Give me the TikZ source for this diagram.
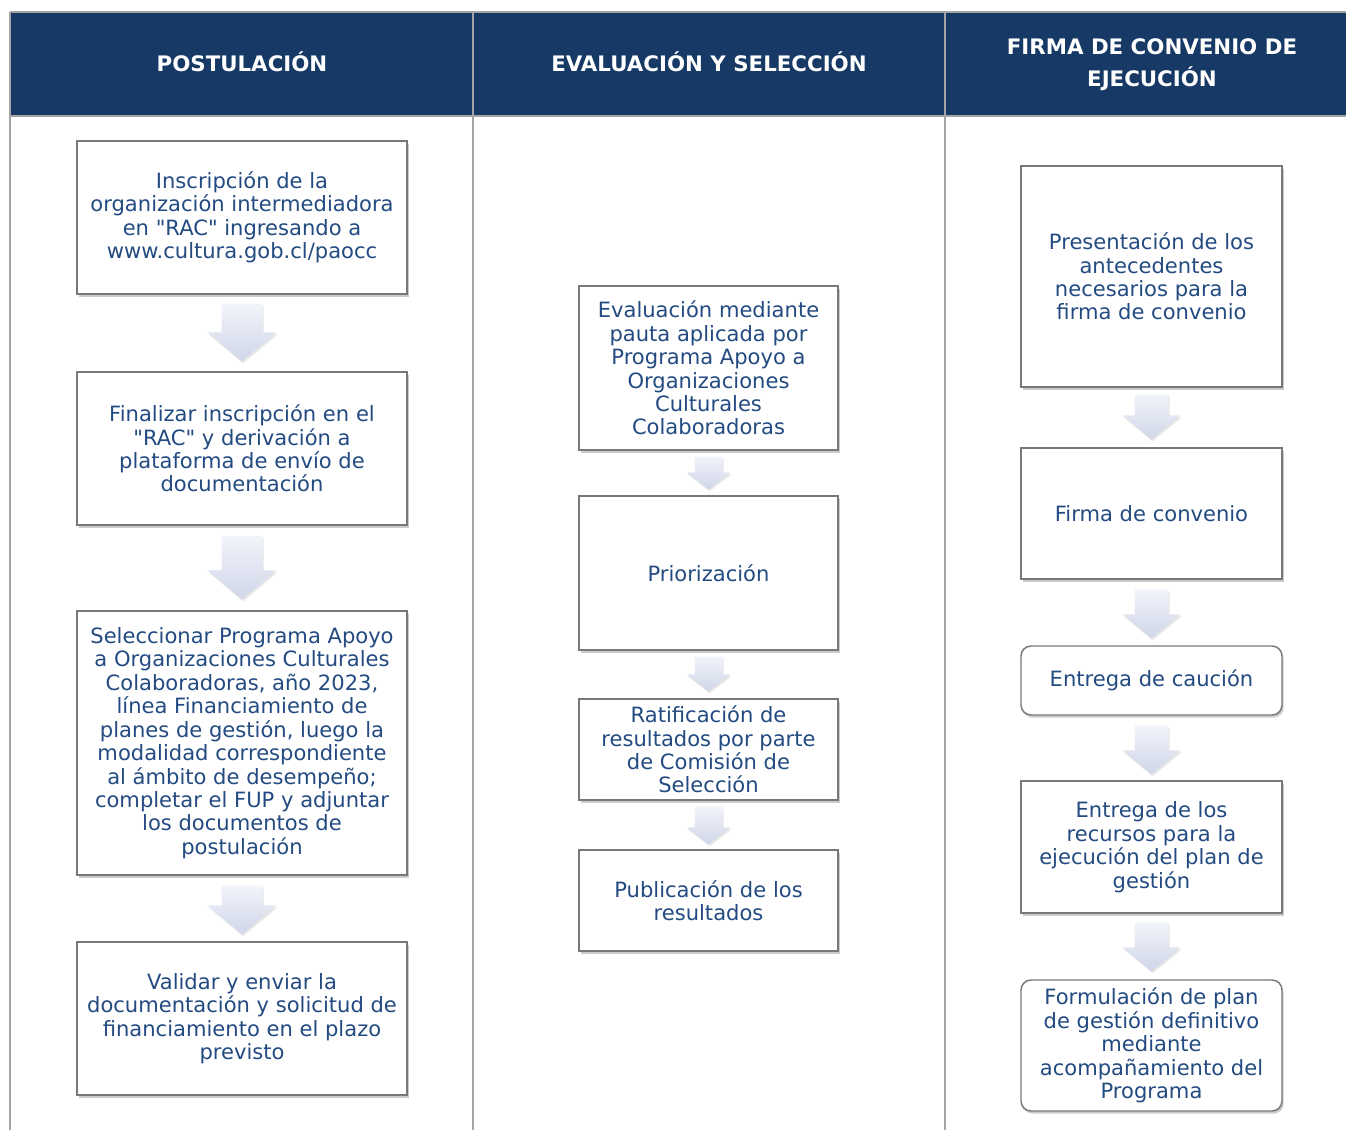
\documentclass[tikz,border=0pt]{standalone}
\usepackage{fontspec}
\setmainfont{DejaVu Sans}
\usetikzlibrary{calc,shadows}
\definecolor{hdr}{RGB}{23,57,101}
\definecolor{txt}{RGB}{35,75,130}
\definecolor{gridc}{RGB}{165,165,165}
\definecolor{bord}{RGB}{120,120,120}
\definecolor{arrtop}{RGB}{242,244,250}
\definecolor{arrbot}{RGB}{208,214,233}
\newcommand\dq{\XeTeXglyph\numexpr\XeTeXcharglyph"0022\relax}
\tikzset{
 stepbox/.style={draw=bord, line width=1.1pt, fill=white, align=center, text=txt,
   font=\fontsize{15.8pt}{17.6pt}\selectfont, inner sep=0pt,
   drop shadow={opacity=0.4, shadow xshift=1.2pt, shadow yshift=-2pt}},
 sz/.style 2 args={minimum width={#1*0.75pt}, minimum height={#2*0.75pt}},
 roundbox/.style={stepbox, rounded corners=7.5pt},
 hdrtext/.style={text=white, font=\bfseries\fontsize{16pt}{24pt}\selectfont, align=center},
 gridline/.style={draw=gridc, line width=0.9pt},
 arrowfill/.style={top color=arrtop, bottom color=arrbot, draw=none,
   drop shadow={opacity=0.2, shadow xshift=0.8pt, shadow yshift=-1.5pt}}
}
% #1 from, #2 to, #3 top gap, #4 bottom gap, #5 shaft half width, #6 head half width, #7 head length
\newcommand\blockarr[7]{%
 \path[arrowfill] let \p1=(#1.south), \p2=(#2.north) in
  ({\x1-#5*0.75pt},{\y1-#3*0.75pt}) --
  ({\x1-#5*0.75pt},{\y2+#4*0.75pt+#7*0.75pt}) --
  ({\x1-#6*0.75pt},{\y2+#4*0.75pt+#7*0.75pt}) --
  ({\x1},{\y2+#4*0.75pt}) --
  ({\x1+#6*0.75pt},{\y2+#4*0.75pt+#7*0.75pt}) --
  ({\x1+#5*0.75pt},{\y2+#4*0.75pt+#7*0.75pt}) --
  ({\x1+#5*0.75pt},{\y1-#3*0.75pt}) -- cycle;}
\begin{document}
\begin{tikzpicture}[x=0.75pt,y=-0.75pt]
\useasboundingbox (0,0) rectangle (1346,1130);
% header
\fill[hdr] (10,12) rectangle (1346,116);
\draw[gridline] (10,12) -- (1346,12);
\draw[gridline] (10,116) -- (1346,116);
\draw[gridline] (10,12) -- (10,1130);
\draw[gridline] (473,12) -- (473,1130);
\draw[gridline] (945,12) -- (945,1130);
\node[hdrtext] (h1) at (242,62) {POSTULACIÓN};
\node[hdrtext] (h2) at (709,62) {EVALUACIÓN Y SELECCIÓN};
\node[hdrtext] (h3) at (1152,65) {FIRMA DE CONVENIO DE\\EJECUCIÓN};
% column 1
\node[stepbox, sz={330}{153}] (a1) at (242,217.5) {Inscripción de la\\organización intermediadora\\en \dq RAC\dq{} ingresando a\\www.cultura.gob.cl/paocc};
\node[stepbox, sz={330}{153}] (a2) at (242,448.5) {Finalizar inscripción en el\\\dq RAC\dq{} y derivación a\\plataforma de envío de\\documentación};
\node[stepbox, sz={330}{264}] (a3) at (242,743) {Seleccionar Programa Apoyo\\a Organizaciones Culturales\\Colaboradoras, año 2023,\\línea Financiamiento de\\planes de gestión, luego la\\modalidad correspondiente\\al ámbito de desempeño;\\completar el FUP y adjuntar\\los documentos de\\postulación};
\node[stepbox, sz={330}{153}] (a4) at (242,1018.5) {Validar y enviar la\\documentación y solicitud de\\financiamiento en el plazo\\previsto};
% column 2
\node[stepbox, sz={259}{164}] (b1) at (708.5,368) {Evaluación mediante\\pauta aplicada por\\Programa Apoyo a\\Organizaciones\\Culturales\\Colaboradoras};
\node[stepbox, sz={259}{154}] (b2) at (708.5,573) {Priorización};
\node[stepbox, sz={259}{101}] (b3) at (708.5,749.5) {Ratificación de\\resultados por parte\\de Comisión de\\Selección};
\node[stepbox, sz={259}{101}] (b4) at (708.5,900.5) {Publicación de los\\resultados};
% column 3
\node[stepbox, sz={261}{221}] (c1) at (1151.5,276.5) {Presentación de los\\antecedentes\\necesarios para la\\firma de convenio};
\node[stepbox, sz={261}{131}] (c2) at (1151.5,513.5) {Firma de convenio};
\node[roundbox, sz={261}{69}] (c3) at (1151.5,680.5) {Entrega de caución};
\node[stepbox, sz={261}{132}] (c4) at (1151.5,847) {Entrega de los\\recursos para la\\ejecución del plan de\\gestión};
\node[roundbox, sz={261}{131}] (c5) at (1151.5,1045.5) {Formulación de plan\\de gestión definitivo\\mediante\\acompañamiento del\\Programa};
% arrows
\blockarr{a1}{a2}{9}{10}{20.5}{34.5}{29}
\blockarr{a2}{a3}{10}{11}{20.5}{34.5}{29}
\blockarr{a3}{a4}{10}{7}{20.5}{34.5}{29}
\blockarr{b1}{b2}{6}{6}{14}{22}{17}
\blockarr{b2}{b3}{6}{7}{14}{22}{17}
\blockarr{b3}{b4}{6}{5}{14}{22}{17}
\blockarr{c1}{c2}{7}{8}{17}{29}{24}
\blockarr{c2}{c3}{10}{7}{17}{29}{24}
\blockarr{c3}{c4}{10}{6}{17}{29}{24}
\blockarr{c4}{c5}{9}{8}{17}{29}{24}
\end{tikzpicture}
\end{document}
